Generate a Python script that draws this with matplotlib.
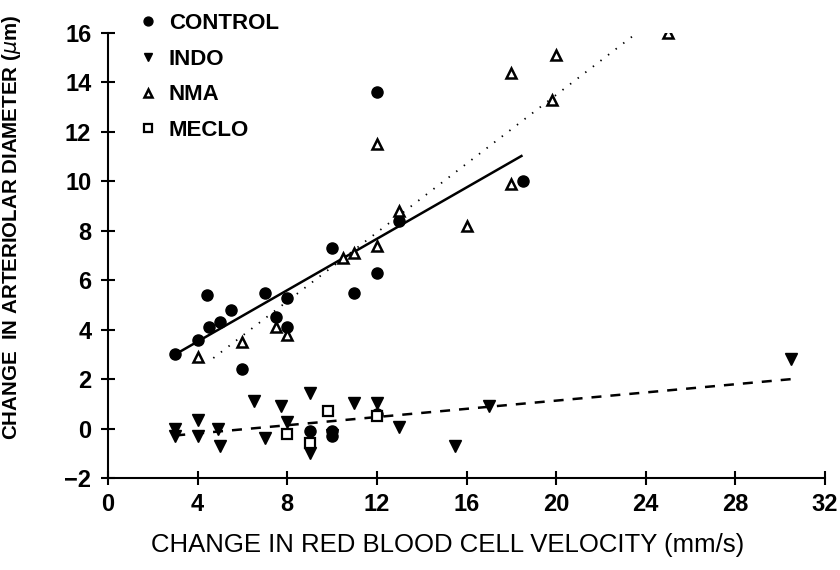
import matplotlib
matplotlib.use("Agg")
import matplotlib.pyplot as plt

plt.rcParams['font.family'] = ['Liberation Sans', 'DejaVu Sans']

# ---- data ----
control_x = [3, 4, 4.5, 4.4, 5, 5.5, 6, 7, 7.5, 8, 8, 10, 11, 12, 12, 13, 18.5, 9, 10, 10, 12]
control_y = [3.0, 3.6, 4.1, 5.4, 4.3, 4.8, 2.4, 5.5, 4.5, 5.3, 4.1, 7.3, 5.5, 13.6, 6.3, 8.4, 10.0, -0.1, -0.1, -0.3, 0.6]

indo_x = [3, 3, 4, 4, 4.9, 5, 6.5, 7, 7.7, 8, 9, 9, 10, 11, 12, 13, 15.5, 17, 30.5]
indo_y = [0.0, -0.3, 0.35, -0.3, 0.0, -0.7, 1.1, -0.4, 0.9, 0.25, 1.45, -1.0, -0.25, 1.05, 1.05, 0.05, -0.7, 0.9, 2.8]

nma_x = [25, 20, 18, 19.8, 12, 18, 16, 13, 12, 11, 10.5, 4, 6, 7.5, 8]
nma_y = [16.0, 15.1, 14.4, 13.3, 11.5, 9.9, 8.2, 8.8, 7.4, 7.1, 6.9, 2.9, 3.5, 4.1, 3.8]

meclo_x = [8, 9, 9.8, 12]
meclo_y = [-0.2, -0.6, 0.7, 0.5]

# regression lines (endpoints)
control_fit_x = [3, 18.5]
control_fit_y = [3.0, 11.05]
nma_fit_x = [4.7, 23.6]
nma_fit_y = [2.85, 16.0]
indo_fit_x = [3, 30.5]
indo_fit_y = [-0.28, 2.0]

x_ticks = [0, 4, 8, 12, 16, 20, 24, 28, 32]
y_ticks = [-2, 0, 2, 4, 6, 8, 10, 12, 14, 16]

# ---- figure ----
fig = plt.figure(figsize=(8.4, 5.7), dpi=100)
ax = fig.add_axes([108/840, 1-478/570, (825-108)/840, (478-33)/570])

ax.plot(control_fit_x, control_fit_y, color='black', lw=1.8, solid_capstyle='butt', zorder=2)
ax.plot(nma_fit_x, nma_fit_y, color='black', lw=1.3, ls=(0, (0.8, 4.5)), zorder=2)
ax.plot(indo_fit_x, indo_fit_y, color='black', lw=1.8, ls=(0, (4, 3.6)), zorder=2)

ax.plot(control_x, control_y, 'o', color='black', ms=8, ls='none', label='CONTROL', zorder=3)
ax.plot(indo_x, indo_y, 'v', color='black', ms=8, ls='none', label='INDO', zorder=3)
ax.plot(nma_x, nma_y, '^', mfc='white', mec='black', mew=1.8, ms=6.5, ls='none', label='NMA', zorder=3)
ax.plot(meclo_x, meclo_y, 's', mfc='white', mec='black', mew=1.6, ms=6.5, ls='none', label='MECLO', zorder=3)

ax.set_xlim(0, 32)
ax.set_ylim(-2, 16)
ax.set_xticks(x_ticks)
ax.set_yticks(y_ticks)

for s in ['top', 'right']:
    ax.spines[s].set_visible(False)
for s in ['left', 'bottom']:
    ax.spines[s].set_linewidth(1.5)

ax.tick_params(direction='inout', length=10, width=1.5, labelsize=17)
ax.tick_params(axis='y', pad=7)
ax.tick_params(axis='x', pad=6)
for lab in ax.get_xticklabels() + ax.get_yticklabels():
    lab.set_fontweight('bold')

ax.set_xlabel('CHANGE IN RED BLOOD CELL VELOCITY (mm/s)', fontsize=18.5)
ax.xaxis.set_label_coords(0.473, -0.124)
ax.set_ylabel('CHANGE  IN ARTERIOLAR DIAMETER ($\\mu$m)', fontsize=14.8, fontweight='bold')
ax.yaxis.set_label_coords(-0.118, 0.562)

leg = ax.legend(loc='upper left', bbox_to_anchor=(0.015, 1.09), frameon=False,
                prop={'size': 16, 'weight': 'bold'}, handlelength=0.8,
                handletextpad=0.55, labelspacing=0.66, markerscale=0.8)

fig.savefig('out.png', dpi=100)
